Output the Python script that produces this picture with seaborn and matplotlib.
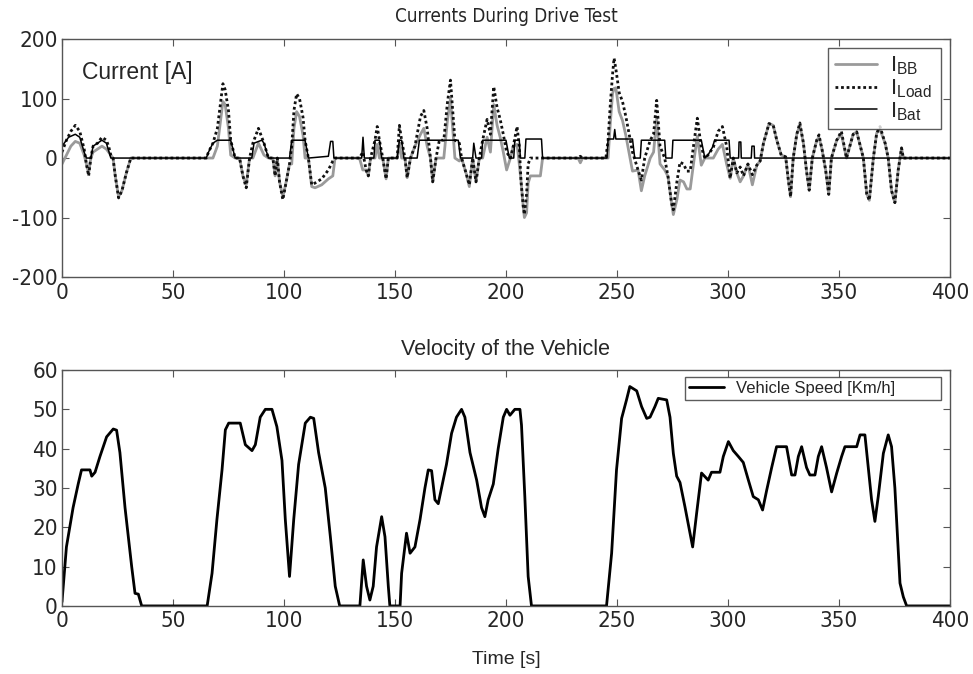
import numpy as np
import pandas as pd
import matplotlib
matplotlib.use("Agg")
import matplotlib.pyplot as plt
import seaborn as sns

# ---- currents (A) ----
t_cur = [0, 2, 4, 6, 8, 10, 11, 12, 13, 14, 16, 18, 20, 21, 22, 23, 24, 25.5, 27, 29, 31,
         65, 66, 68, 70, 71, 72.5, 73.5, 75, 76, 78, 80, 81.5, 83, 84.5, 86, 88.5, 91, 93,
         95, 96, 97, 98, 99.5, 101, 102.5, 103.5, 104.5, 105.7, 107, 108.6, 109.5, 111,
         112.5, 114, 117, 120, 122, 123, 134, 135.5, 137, 138, 139, 141, 142, 143, 144.5,
         146, 147, 151, 152, 153, 154.5, 155.5, 157, 159, 161.5, 163, 164.5, 166, 167,
         168.5, 170, 172, 173.6, 175, 176, 177, 179, 180, 182, 183.5, 185, 186.5, 188,
         189.5, 191.5, 193, 194.5, 196, 197.4, 198.8, 200.3, 202, 203.3, 205, 206, 206.8,
         207.8, 208.3, 209.3, 210, 211, 215.5, 216.5, 232.5, 233.5, 234.5,
         245, 246, 247, 248, 248.7, 249.5, 251, 252.5, 254, 255.5, 257, 259.5, 261, 262.5,
         265, 266.5, 267.9, 269.4, 271.5, 273, 274.6, 275.4, 277, 278.4, 280, 281.5, 283,
         284.4, 286.2, 288, 289.6, 291, 293.4, 295.6, 297.5, 299.4, 301, 302.4, 304, 305.5,
         307, 309, 311, 313, 314.5, 316, 318.5, 320.4, 322, 324, 326, 327.2, 328.2, 329.4,
         331, 332.4, 334, 335.4, 336.6, 338, 340, 341, 342.4, 344, 345.4, 346.6, 349,
         351.1, 353.4, 356.4, 358, 361, 362.5, 363.7, 365.5, 367, 368.5, 370.8, 372.2,
         373.7, 375.2, 376.7, 378.2, 379, 400]
i_load = [10, 30, 45, 55, 45, 15, -10, -30, 0, 20, 25, 35, 30, 20, 5, 0, -30, -67, -55, -25, 0,
          0, 10, 25, 50, 80, 125, 115, 80, 30, 0, 0, -30, -50, 0, 25, 50, 25, 0,
          0, -30, 0, -40, -70, -40, -10, 20, 80, 108, 100, 68, 30, 0,
          -45, -42, -35, -20, -5, 0, 0, 10, -20, -30, 0, 30, 53, 30, 0,
          -35, 0, 0, 55, 30, 0, -33, 0, 20, 70, 80, 50, 0, -40,
          0, 30, 30, 92, 131, 80, 30, 25, 0, -25, -45, 0, -40, 0,
          30, 65, 40, 120, 85, 65, 40, 10, 0, 20, 53, 20, -40,
          -82, -95, -60, -10, 0, 0, 0, 0, 3, 0,
          0, 30, 90, 140, 168, 150, 110, 95, 70, 40, 10, -20, -37, 0,
          30, 40, 97, 20, 0, -31, -76, -87, -40, -7, -10, -22, -22,
          18, 67, 18, 0, 5, 18, 45, 53, 20, -34, 0, -25, -15,
          -30, -10, -28, -12, -5, 25, 58, 55, 30, 5, 2, -37, -65, 0,
          40, 59, 25, -22, -54, 0, 30, 39, 14, -20, -61, 0, 30,
          45, 0, 40, 44, 0, -60, -71, 0, 42, 53, 25, 0,
          -55, -75, -20, 17, 0, 0]
i_bb = [-10, 5, 20, 28, 25, 5, -10, -25, 0, 10, 15, 20, 15, 10, 5, 0, -30, -65, -55, -25, 0,
        0, 0, 0, 20, 50, 95, 90, 50, 5, 0, 0, -30, -45, 0, 0, 25, 5, 0,
        0, -30, 0, -40, -65, -40, -10, -10, 50, 78, 70, 38, 0, 0,
        -48, -50, -45, -35, -30, 0, 0, -20, -20, -30, 0, 0, 23, 0, 0,
        -35, 0, 0, 25, 0, 0, -33, 0, 20, 40, 50, 20, 0, -40,
        0, 0, 0, 62, 100, 50, 0, -5, 0, -25, -48, 0, -40, 0,
        0, 35, 10, 90, 55, 35, 10, -20, 0, 20, 23, -10, -40,
        -82, -100, -92, -42, -30, -30, 0, 0, -8, 0,
        0, 0, 58, 108, 117, 118, 78, 63, 38, 8, -22, -20, -55, -30,
        0, 10, 67, -10, -20, -31, -76, -95, -70, -37, -40, -52, -52,
        -12, 37, -12, 0, 0, 0, 15, 23, -10, -34, 0, -25, -40,
        -30, -10, -45, -12, -5, 25, 58, 55, 30, 5, 2, -37, -65, 0,
        40, 55, 25, -22, -54, 0, 30, 35, 14, -20, -61, 0, 30,
        40, 0, 40, 44, 0, -60, -71, 0, 42, 48, 25, 0,
        -55, -75, -20, 17, 0, 0]
t_bat = [0, 3, 6, 8, 10, 11, 13, 14, 16, 18, 20, 22, 65, 66, 68, 70, 76, 78, 85.5, 86.5, 90,
         91, 93, 102.5, 103.5, 109.5, 111, 120, 121, 122, 122.5, 135, 135.6, 136.2, 140.5,
         141, 143, 144, 151, 152, 153, 154, 160, 161, 178.5, 179.5, 185, 185.5, 186.5,
         189, 189.5, 200, 201.5, 203.5, 204, 206, 206.5, 208.5, 209, 216, 216.5, 245.5,
         246, 248.5, 249, 249.5, 257, 258, 260.5, 261, 271.5, 272, 274.8, 275.2, 288,
         289.6, 291, 293, 294, 300.5, 301, 304.8, 305, 305.8, 306, 310.5, 310.8, 311.8,
         312, 400]
i_bat = [20, 35, 40, 35, 10, 0, 0, 20, 25, 30, 25, 0, 0, 10, 25, 30, 30, 0, 0, 25, 30,
         25, 0, 0, 30, 30, 0, 3, 28, 28, 0, 0, 35, 0, 0,
         30, 30, 0, 0, 30, 30, 0, 0, 30, 30, 0, 0, 25, 0,
         0, 30, 30, 0, 0, 30, 30, 0, 0, 32, 32, 0, 0,
         32, 32, 48, 32, 32, 0, 0, 30, 30, 0, 0, 30, 30,
         0, 5, 18, 30, 30, 0, 0, 27, 27, 0, 0, 20, 20,
         0, 0]

# ---- vehicle speed (km/h) ----
t_spd = [0, 2, 5, 7.3, 8.8, 12.6, 13.4, 14.9, 17.1, 20.1, 23.1, 24.6, 26.1, 28.4, 29.9, 31.4,
         32.9, 34.4, 35.9, 65.4, 67.6, 69.8, 72.1, 73.6, 75.1, 80.3, 82.6, 85.6, 87.1, 89.3,
         91.6, 94.6, 96.8, 99.1, 100.6, 102.5, 104.4, 106.6, 109.6, 111.9, 113.4, 115.6,
         118.6, 120.9, 123.1, 125.1, 134.2, 135.7, 137.2, 138.7, 140.2, 141.7, 144, 145.5,
         147, 147.7, 152.3, 153, 155.2, 156.8, 159, 161.3, 163.5, 165, 166.5, 168, 169.5,
         171, 173.2, 175.5, 177.7, 180, 181.5, 183.8, 186.8, 189, 190.5, 192, 194.3, 196.5,
         198.8, 200.3, 201.8, 204, 206.3, 207, 208.5, 210, 211.5, 245.3, 247.6, 249.8,
         252.1, 254.3, 255.8, 258.9, 261.1, 263.4, 264.9, 267.1, 268.6, 272.4, 273.9,
         275.4, 276.9, 278.4, 280.6, 282.9, 284.1, 285.9, 288.1, 291.1, 292.6, 296.4,
         297.9, 300.2, 302.4, 304.7, 306.9, 309.2, 311.4, 313.7, 315.6, 317.4, 319.7,
         321.9, 326.4, 328.7, 330.2, 331.7, 333.2, 335.4, 336.9, 339.2, 340.7, 342.2,
         344.4, 346.7, 349, 351.2, 352.7, 358, 359.5, 361.7, 363.2, 364.7, 366.2, 367.7,
         370, 372.2, 373.7, 375.2, 376.3, 377.5, 379, 380.5, 400]
v_spd = [1, 15, 25, 31, 34.6, 34.6, 33, 34, 38, 43, 45, 44.7, 39, 25, 17.6, 10,
         3.2, 3, 0, 0, 8.3, 22, 34.6, 44.8, 46.5, 46.5, 41, 39.5, 41, 48,
         50, 50, 45.6, 37, 22, 7.5, 22, 36, 46.5, 48, 47.7, 39,
         30, 17.6, 5, 0, 0, 11.7, 5, 1.5, 5, 15, 22.7, 17.6,
         5, 0, 0, 8.3, 18.5, 13.4, 15, 22, 30, 34.6, 34.4, 27, 26,
         30, 36, 43.9, 48, 50, 48, 39, 32, 25, 22.7, 27, 31, 40,
         48, 50, 48.5, 50, 50, 46, 27.8, 7.5, 0, 0, 13.4, 34.6,
         47.7, 52.4, 55.8, 54.7, 50.7, 47.7, 48, 50.7, 52.8, 52.4, 48,
         38.8, 33, 31.4, 25.3, 18.5, 15, 23.6, 33.8, 32, 34, 34,
         38, 41.8, 39.5, 38, 36.5, 32, 27.8, 27, 24.4, 29.3, 35.2,
         40.5, 40.5, 33.3, 33.3, 38, 40.5, 35.2, 33.3, 33.3, 38, 40.5,
         35.2, 29, 33.8, 38, 40.5, 40.5, 43.5, 43.5, 35.2, 27, 21.5, 27.8,
         38.8, 43.5, 40.5, 30, 18.5, 5.8, 2.3, 0, 0]

sns.set_style("ticks")
plt.rcParams["font.family"] = ["Liberation Sans", "DejaVu Sans"]
plt.rcParams["axes.unicode_minus"] = False
narrow = ["Liberation Sans Narrow", "DejaVu Sans"]
frame = "#555555"

fig = plt.figure(figsize=(9.73, 6.74), dpi=100)
ax1 = fig.add_axes([0.0637, 0.589, 0.9126, 0.353])
ax2 = fig.add_axes([0.0637, 0.101, 0.9126, 0.350])

cur = pd.DataFrame({"t": t_cur, "load": i_load, "bb": i_bb})
bat = pd.DataFrame({"t": t_bat, "bat": i_bat})
spd = pd.DataFrame({"t": t_spd, "v": v_spd})

sns.lineplot(data=cur, x="t", y="bb", ax=ax1, color="#9a9a9a", lw=2.0,
             estimator=None, sort=False, label=r"$\mathregular{I_{BB}}$")
sns.lineplot(data=cur, x="t", y="load", ax=ax1, color="#111111", lw=2.0,
             estimator=None, sort=False, label=r"$\mathregular{I_{Load}}$")
ax1.lines[-1].set_linestyle((0, (1, 1)))
sns.lineplot(data=bat, x="t", y="bat", ax=ax1, color="black", lw=1.1,
             estimator=None, sort=False, label=r"$\mathregular{I_{Bat}}$")

sns.lineplot(data=spd, x="t", y="v", ax=ax2, color="black", lw=2.0,
             estimator=None, sort=False, label="Vehicle Speed [Km/h]")

ax1.set_xlim(0, 400)
ax1.set_ylim(-200, 200)
ax1.set_yticks([-200, -100, 0, 100, 200])
ax2.set_xlim(0, 400)
ax2.set_ylim(0, 60)
ax2.set_yticks(range(0, 61, 10))

for ax in (ax1, ax2):
    ax.set_xticks(range(0, 401, 50))
    ax.tick_params(direction="in", top=True, right=True, length=5,
                   color=frame, labelsize=16, pad=3)
    ax.tick_params(axis="x", pad=4)
    for lab in ax.get_xticklabels() + ax.get_yticklabels():
        lab.set_family(narrow)
        lab.set_stretch("condensed")
    for s in ax.spines.values():
        s.set_color(frame)
        s.set_linewidth(1.0)
    ax.set_ylabel("")
    ax.set_xlabel("")

ax1.set_title("Currents During Drive Test", fontsize=13.5, family=narrow,
              fontstretch="condensed", pad=12)
ax2.set_title("Velocity of the Vehicle", fontsize=15.5, pad=11)
ax2.set_xlabel("Time [s]", fontsize=14, labelpad=14)
ax1.text(0.022, 0.86, "Current [A]", transform=ax1.transAxes, fontsize=16.5,
         va="center", ha="left")

leg1 = ax1.legend(loc="upper left", bbox_to_anchor=(0.8626, 0.626, 0.1273, 0.336),
                  mode="expand", fontsize=16, frameon=True, fancybox=False,
                  handlelength=1.9, handletextpad=0.6, labelspacing=0.0,
                  borderpad=0.3, borderaxespad=0.0)
leg1.get_frame().set_edgecolor("#333333")
leg1.get_frame().set_linewidth(1.0)
leg2 = ax2.legend(loc="upper left", bbox_to_anchor=(0.7016, 0.864, 0.288, 0.106),
                  mode="expand", fontsize=12, frameon=True, fancybox=False,
                  handlelength=2.1, handletextpad=0.7, borderpad=0.25,
                  borderaxespad=0.0)
leg2.get_frame().set_edgecolor("#333333")
leg2.get_frame().set_linewidth(1.0)

fig.savefig("out.png", dpi=100, facecolor="white")
